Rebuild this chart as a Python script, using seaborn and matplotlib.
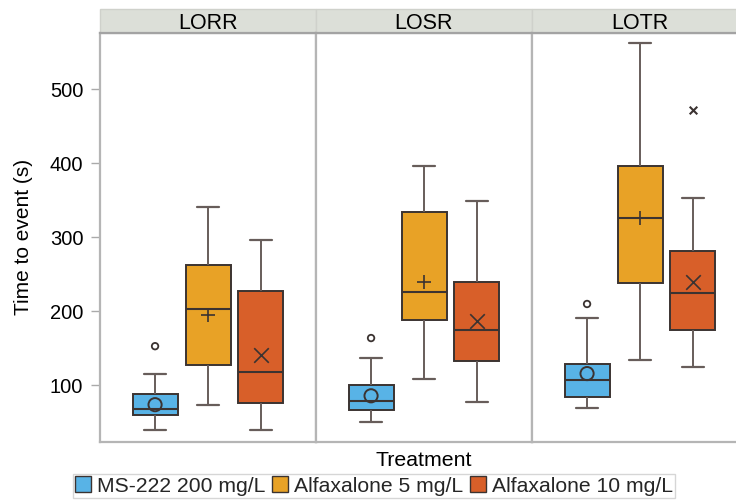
import numpy as np
import pandas as pd
import matplotlib
matplotlib.use("Agg")
import matplotlib.pyplot as plt
import seaborn as sns
from matplotlib.patches import Rectangle, Patch

# ---------------- data ----------------
events = ["LORR", "LOSR", "LOTR"]
treatments = ["MS-222 200 mg/L", "Alfaxalone 5 mg/L", "Alfaxalone 10 mg/L"]
colors = ["#58b3e6", "#e8a226", "#d85f29"]

# [event][treatment]
whisker_low = [[40, 74, 40], [50, 109, 77], [69, 134, 125]]
q1 = [[59.5, 127, 76], [67, 189, 133], [85, 239, 175]]
median = [[68, 203.5, 118], [79, 226.5, 175], [108, 326, 225.5]]
q3 = [[89, 262, 227], [100, 334, 239.5], [129, 397, 281]]
whisker_high = [[115, 341, 296], [137, 397, 349], [191, 562, 353]]
means = [[74, 194.5, 141], [86, 240, 187], [116, 326, 240]]

outlier_event = ["LORR", "LOSR", "LOTR", "LOTR"]
outlier_treatment = [treatments[0], treatments[0], treatments[0], treatments[2]]
outlier_value = [153, 164, 210, 472.5]

yticks = [100, 200, 300, 400, 500]

# ---------------- tables ----------------
rows = []
for i, ev in enumerate(events):
    for j, tr in enumerate(treatments):
        for v in (whisker_low[i][j], q1[i][j], median[i][j], q3[i][j], whisker_high[i][j]):
            rows.append({"Event": ev, "Treatment": tr, "value": v})
box_df = pd.DataFrame(rows)

mean_df = pd.DataFrame([
    {"Event": ev, "Treatment": tr, "pos": j, "mean": means[i][j]}
    for i, ev in enumerate(events) for j, tr in enumerate(treatments)
])
out_df = pd.DataFrame({"Event": outlier_event, "Treatment": outlier_treatment,
                       "value": outlier_value})
out_df["pos"] = [treatments.index(t) for t in out_df["Treatment"]]

mean_markers = ["o", "+", "x"]
mean_sizes = [90, 115, 110]
out_markers = ["o", "+", "x"]
out_sizes = [22, 30, 30]

# ---------------- style ----------------
sns.set_style("white")
plt.rcParams["font.family"] = ["Liberation Sans", "DejaVu Sans"]

dark = "#3b3331"
whisk = "#675d5a"
spine_c = "#b5b5b5"
txt = "#000000"

W, H = 736, 500
ax_left, ax_top, ax_bottom, pw = 100, 33, 441.7, 216
fig = plt.figure(figsize=(W / 100, H / 100), dpi=100)

axes = []
for i, ev in enumerate(events):
    ax = fig.add_axes([(ax_left + i * pw) / W, 1 - ax_bottom / H, pw / W,
                       (ax_bottom - ax_top) / H])
    axes.append(ax)
    sub = box_df[box_df["Event"] == ev]
    sns.boxplot(data=sub, x="Treatment", y="value", hue="Treatment",
                order=treatments, hue_order=treatments, palette=colors,
                whis=(0, 100), width=0.85, linewidth=1.4, linecolor=dark,
                fliersize=0, legend=False, ax=ax, saturation=1,
                whiskerprops={"color": whisk, "linewidth": 1.4},
                capprops={"color": whisk, "linewidth": 1.6},
                medianprops={"color": dark, "linewidth": 1.5})
    msub = mean_df[mean_df["Event"] == ev]
    for _, r in msub.iterrows():
        j = int(r["pos"])
        if mean_markers[j] == "o":
            sns.scatterplot(x=[r["pos"]], y=[r["mean"]], marker="o", s=mean_sizes[j],
                            facecolor="none", edgecolor=dark, linewidth=1.4,
                            ax=ax, zorder=6)
        else:
            sns.scatterplot(x=[r["pos"]], y=[r["mean"]], marker=mean_markers[j],
                            s=mean_sizes[j], color=dark, linewidth=1.2,
                            ax=ax, zorder=6)
    osub = out_df[out_df["Event"] == ev]
    for _, r in osub.iterrows():
        j = int(r["pos"])
        if out_markers[j] == "o":
            sns.scatterplot(x=[r["pos"]], y=[r["value"]], marker="o", s=out_sizes[j],
                            facecolor="none", edgecolor=dark, linewidth=1.3,
                            ax=ax, zorder=6)
        else:
            sns.scatterplot(x=[r["pos"]], y=[r["value"]], marker=out_markers[j],
                            s=out_sizes[j], color=dark, linewidth=1.5,
                            ax=ax, zorder=6)

    ax.set_xlim(-1.04, 3.04)
    ax.set_ylim(24, 576)
    ax.set_xlabel("")
    ax.set_ylabel("")
    ax.tick_params(axis="x", bottom=False, labelbottom=False)
    for s in ax.spines.values():
        s.set_visible(True)
        s.set_color(spine_c)
        s.set_linewidth(1.6)
    ax.spines["top"].set_color("#a3a3a3")
    # facet header strip
    hh = 24 / (ax_bottom - ax_top)
    ax.add_patch(Rectangle((0, 1), 1, hh, transform=ax.transAxes,
                           facecolor="#dcdfd8", edgecolor="#cfd1cb", linewidth=1,
                           clip_on=False, zorder=0))
    ax.text(0.5, 1 + hh / 2, ev, transform=ax.transAxes, ha="center",
            va="center_baseline", fontsize=15.5, color=txt)
    if i == 0:
        ax.set_yticks(yticks)
        ax.tick_params(axis="y", left=True, length=6.5, width=1, color="#aaaaaa",
                       labelsize=14.5, pad=5.5, labelcolor=txt)
        ax.set_ylabel("Time to event (s)", fontsize=15, labelpad=12, color=txt)
    else:
        ax.set_yticks(yticks)
        ax.tick_params(axis="y", left=False, labelleft=False)

axes[1].set_xlabel("Treatment", fontsize=15.3, labelpad=7, color=txt)

handles = [Patch(facecolor=c, edgecolor=dark, linewidth=1.0) for c in colors]
leg = fig.legend(handles, treatments, loc="center", bbox_to_anchor=(374 / W, 1 - 486 / H),
                 ncol=3, fontsize=15.2, frameon=True, fancybox=False,
                 edgecolor="#cccccc", handlelength=0.75, handleheight=0.75,
                 handletextpad=0.3, columnspacing=0.3, borderpad=0.1,
                 borderaxespad=0)
leg.get_frame().set_linewidth(1.0)

fig.savefig("out.png", dpi=100)
